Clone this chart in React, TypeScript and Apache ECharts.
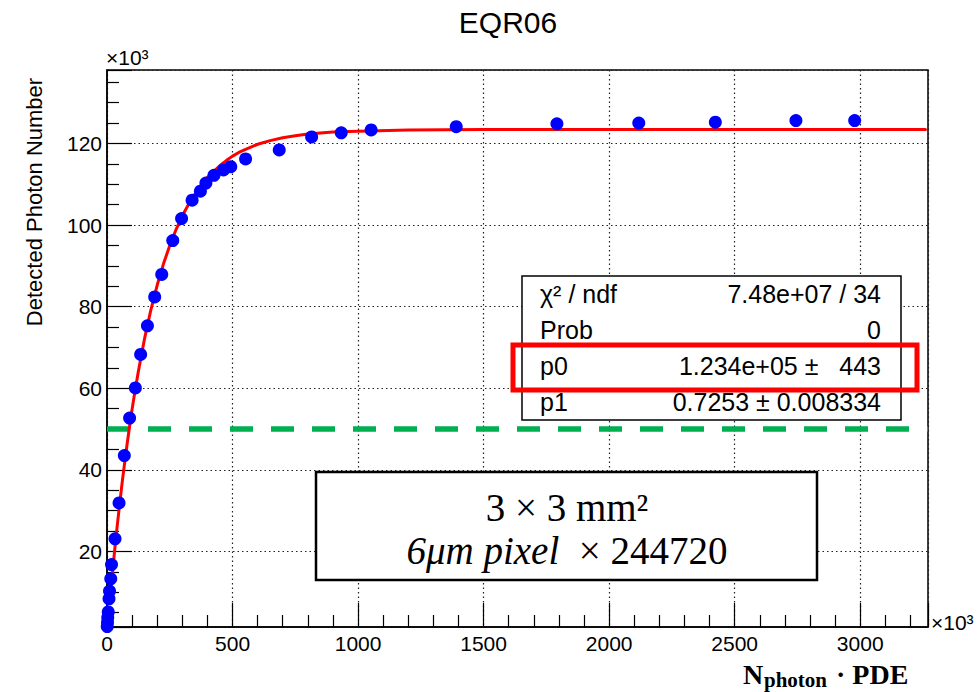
import React, { useEffect, useRef } from "react";
import * as echarts from "echarts";

// ---- data (units: ×10^3) ----
const measuredX = [1, 2, 3, 5, 8, 10, 15, 18, 32, 48, 69, 90, 113, 134, 161, 190, 218, 262, 297, 339, 372, 394, 426, 464, 493, 552, 686, 815, 933, 1052, 1391, 1792, 2118, 2423, 2744, 2978];
const measuredY = [1.6, 2.6, 3.8, 5.2, 8.4, 10.3, 13.3, 16.8, 23.1, 31.9, 43.5, 52.7, 60.1, 68.3, 75.3, 82.4, 87.9, 96.2, 101.6, 106.1, 108.3, 110.3, 112.2, 113.5, 114.3, 116.2, 118.4, 121.6, 122.6, 123.3, 124.1, 124.8, 125.0, 125.2, 125.6, 125.6];
const fitX = [15, 20, 30, 40, 50, 60, 70, 80, 90, 100, 112, 125, 150, 175, 200, 225, 250, 275, 300, 325, 350, 375, 400, 450, 475, 500, 525, 550, 600, 650, 700, 750, 800, 900, 1000, 1200, 1500, 2000, 2500, 3260];
const fitY = [11.0, 13.7, 20.0, 25.9, 31.4, 36.7, 41.6, 46.3, 50.7, 54.9, 59.5, 64.2, 72.3, 79.3, 85.3, 90.5, 95.0, 98.9, 102.3, 105.1, 107.6, 109.8, 111.7, 114.6, 115.8, 116.9, 117.8, 118.5, 119.8, 120.7, 121.4, 121.9, 122.3, 122.8, 123.0, 123.3, 123.4, 123.4, 123.4, 123.4];
const thresholdY = 50;
const xRange = [0, 3270];
const yRange = [1.5, 138];
const xTickStep = 500;
const yTickStep = 20;

const chartTitle = "EQR06";
const yAxisTitle = "Detected Photon Number";
const statsLabels = ["χ² / ndf", "Prob", "p0", "p1"];
const statsValues = ["7.48e+07 / 34", "0", "1.234e+05 ±   443", "0.7253 ± 0.008334"];
const noteLine1 = "3 × 3 mm²";
const noteLine2Italic = "6μm pixel";
const noteLine2Rest = "  × 244720";

const SANS = "'Liberation Sans', Arial, Helvetica, sans-serif";
const SERIF = "'Liberation Serif', 'Times New Roman', serif";

export default function App() {
  const ref = useRef<HTMLDivElement>(null);

  useEffect(() => {
    if (!ref.current) return;
    const chart = echarts.init(ref.current, null, { renderer: "svg" });

    const statsRowY = [294, 330, 366, 402];
    const statsGraphics: any[] = [];
    statsLabels.forEach((t, i) => {
      statsGraphics.push({
        type: "text",
        x: 540,
        y: statsRowY[i],
        z: 102,
        style: { text: t, fill: "#000", font: `25px ${SANS}`, align: "left", verticalAlign: "middle" },
      });
      statsGraphics.push({
        type: "text",
        x: 881,
        y: statsRowY[i],
        z: 102,
        style: { text: statsValues[i], fill: "#000", font: `25px ${SANS}`, align: "right", verticalAlign: "middle" },
      });
    });

    const option: any = {
      animation: false,
      backgroundColor: "#fff",
      grid: {
        left: 107,
        right: 52,
        top: 70,
        bottom: 65,
        show: true,
        borderColor: "#000",
        borderWidth: 1.5,
        containLabel: false,
      },
      xAxis: {
        type: "value",
        min: xRange[0],
        max: xRange[1],
        minInterval: xTickStep,
        maxInterval: xTickStep,
        axisLine: { show: true, lineStyle: { color: "#000", width: 1.5 } },
        axisTick: { show: true, inside: true, length: 24, lineStyle: { color: "#000", width: 1.2 } },
        minorTick: { show: true, splitNumber: 5, length: 12, lineStyle: { color: "#000", width: 1.2 } },
        splitLine: { show: true, lineStyle: { color: "#222", width: 1.2, type: [1.5, 3] } },
        axisLabel: {
          color: "#000",
          fontFamily: SANS,
          fontSize: 21,
          margin: 6,
          formatter: (v: number) => (v % xTickStep === 0 ? String(v) : ""),
        },
      },
      yAxis: {
        type: "value",
        min: yRange[0],
        max: yRange[1],
        minInterval: yTickStep,
        maxInterval: yTickStep,
        axisLine: { show: true, lineStyle: { color: "#000", width: 1.5 } },
        axisTick: { show: true, inside: true, length: 25, lineStyle: { color: "#000", width: 1.2 } },
        minorTick: { show: true, splitNumber: 4, length: 12, lineStyle: { color: "#000", width: 1.2 } },
        splitLine: { show: true, lineStyle: { color: "#222", width: 1.2, type: [1.5, 3] } },
        axisLabel: {
          color: "#000",
          fontFamily: SANS,
          fontSize: 21,
          margin: 5,
          formatter: (v: number) => (Math.abs(v % yTickStep) < 1e-9 ? String(v) : ""),
        },
      },
      series: [
        {
          type: "line",
          name: "threshold",
          data: [
            [xRange[0], thresholdY],
            [xRange[1], thresholdY],
          ],
          symbol: "none",
          lineStyle: { color: "#00B050", width: 5.5, type: [23, 18] },
          z: 2,
          silent: true,
        },
        {
          type: "line",
          name: "fit",
          data: fitX.map((x, i) => [x, fitY[i]]),
          symbol: "none",
          smooth: false,
          lineStyle: { color: "#ff0000", width: 3, cap: "round", join: "round" },
          z: 3,
          silent: true,
        },
        {
          type: "scatter",
          name: "data",
          data: measuredX.map((x, i) => [x, measuredY[i]]),
          symbol: "circle",
          symbolSize: 13,
          itemStyle: { color: "#0000ff", opacity: 1 },
          z: 4,
          silent: true,
        },
      ],
      graphic: [
        {
          type: "text",
          x: 508,
          y: 22,
          z: 100,
          style: { text: chartTitle, fill: "#000", font: `30px ${SANS}`, align: "center", verticalAlign: "middle" },
        },
        {
          type: "text",
          x: 34,
          y: 202,
          rotation: Math.PI / 2,
          z: 100,
          style: { text: yAxisTitle, fill: "#000", font: `22px ${SANS}`, align: "center", verticalAlign: "middle" },
        },
        {
          type: "text",
          x: 106,
          y: 57,
          z: 100,
          style: { text: "×10³", fill: "#000", font: `21px ${SANS}`, align: "left", verticalAlign: "middle" },
        },
        {
          type: "text",
          x: 931,
          y: 622,
          z: 100,
          style: { text: "×10³", fill: "#000", font: `21px ${SANS}`, align: "left", verticalAlign: "middle" },
        },
        {
          type: "text",
          x: 743,
          y: 674,
          z: 100,
          style: { text: "N", fill: "#000", font: `bold 28px ${SERIF}`, align: "left", verticalAlign: "middle" },
        },
        {
          type: "text",
          x: 764,
          y: 680,
          z: 100,
          style: { text: "photon", fill: "#000", font: `bold 21px ${SERIF}`, align: "left", verticalAlign: "middle" },
        },
        {
          type: "text",
          x: 836,
          y: 674,
          z: 100,
          style: { text: "· PDE", fill: "#000", font: `bold 28px ${SERIF}`, align: "left", verticalAlign: "middle" },
        },
        {
          type: "rect",
          z: 101,
          shape: { x: 522, y: 276, width: 379, height: 144 },
          style: { fill: "#fff", stroke: "#000", lineWidth: 1.5 },
        },
        ...statsGraphics,
        {
          type: "rect",
          z: 103,
          shape: { x: 513, y: 345, width: 404, height: 45 },
          style: { fill: "none", stroke: "#ff0000", lineWidth: 5 },
        },
        {
          type: "rect",
          z: 101,
          shape: { x: 316, y: 472, width: 501, height: 108 },
          style: { fill: "#fff", stroke: "#000", lineWidth: 2.5 },
        },
        {
          type: "text",
          x: 567,
          y: 507,
          z: 102,
          style: { text: noteLine1, fill: "#000", font: `39px ${SERIF}`, align: "center", verticalAlign: "middle" },
        },
        {
          type: "text",
          x: 567,
          y: 550,
          z: 102,
          style: {
            text: `{it|${noteLine2Italic}}{n|${noteLine2Rest}}`,
            fill: "#000",
            align: "center",
            verticalAlign: "middle",
            rich: {
              it: { fontFamily: SERIF, fontSize: 39, fontStyle: "italic", fill: "#000" },
              n: { fontFamily: SERIF, fontSize: 39, fill: "#000" },
            },
          },
        },
      ],
    };

    chart.setOption(option);
    return () => chart.dispose();
  }, []);

  return (
    <div
      ref={ref}
      style={{ position: "fixed", left: 0, top: 0, width: 980, height: 692, background: "#fff" }}
    />
  );
}
